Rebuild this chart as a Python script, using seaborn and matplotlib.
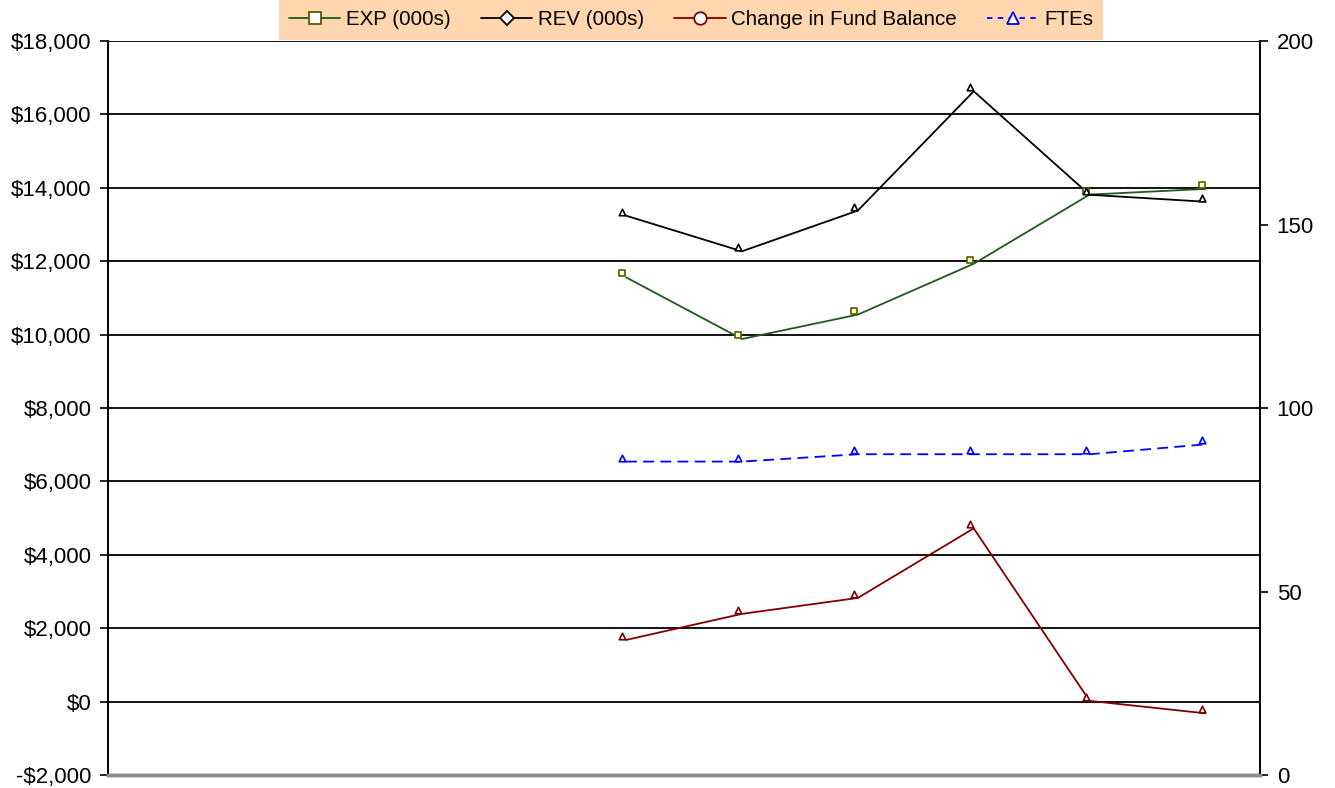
import matplotlib
matplotlib.use("Agg")
import matplotlib.pyplot as plt
import matplotlib.transforms as mtransforms
from matplotlib.lines import Line2D
import numpy as np
import pandas as pd
import seaborn as sns

# Ten reporting periods; only the last six carry values
periods = list(range(1, 11))
exp_000s = [None, None, None, None, 11560, 9880, 10545, 11930, 13815, 13970]
rev_000s = [None, None, None, None, 13240, 12270, 13380, 16630, 13810, 13620]
fund_balance_change = [None, None, None, None, 1680, 2390, 2825, 4720, 20, -320]
ftes = [None, None, None, None, 85.4, 85.4, 87.4, 87.4, 87.4, 90.1]

left_ticks = list(range(-2000, 18001, 2000))
right_ticks = [0, 50, 100, 150, 200]

df = pd.DataFrame({
    "period": periods,
    "EXP (000s)": exp_000s,
    "REV (000s)": rev_000s,
    "Change in Fund Balance": fund_balance_change,
    "FTEs": ftes,
}).astype(float)

sns.set_theme(style="white")
plt.rcParams["font.family"] = ["Liberation Sans", "DejaVu Sans"]
plt.rcParams["text.color"] = "black"

fig = plt.figure(figsize=(13.35, 7.88), dpi=100)
ax = fig.add_axes([108 / 1335, 1 - 775 / 788, (1260 - 108) / 1335, (775 - 41) / 788])
ax2 = ax.twinx()

c_exp = "#1e5a1e"
c_rev = "#000000"
c_fund = "#800000"
c_fte = "#0000ff"

# small marker glyphs sit just up-left of each vertex
mark_off = mtransforms.offset_copy(ax.transData, fig=fig, x=-4, y=4, units="dots")
mark_off2 = mtransforms.offset_copy(ax2.transData, fig=fig, x=-4, y=4, units="dots")

series = [
    ("EXP (000s)", c_exp, ax, mark_off, "s", "#ffffcc", "#5a5a00"),
    ("REV (000s)", c_rev, ax, mark_off, "^", "white", "#000000"),
    ("Change in Fund Balance", c_fund, ax, mark_off, "^", "white", c_fund),
]
for name, col, a, tr, mk, fc, ec in series:
    sub = df[["period", name]].dropna()
    sns.lineplot(data=sub, x="period", y=name, ax=a, color=col, lw=1.3)
    sns.scatterplot(data=sub, x="period", y=name, ax=a, marker=mk, s=22,
                    facecolor=fc, edgecolor=ec, linewidth=1.2, transform=tr, zorder=5)

sub = df[["period", "FTEs"]].dropna()
sns.lineplot(data=sub, x="period", y="FTEs", ax=ax2, color=c_fte, lw=1.3,
             dashes=False, linestyle=(0, (6, 3.5)))
sns.scatterplot(data=sub, x="period", y="FTEs", ax=ax2, marker="^", s=22,
                facecolor="white", edgecolor=c_fte, linewidth=1.2,
                transform=mark_off2, zorder=5)

# axes limits and ticks
ax.set_xlim(0.53, 10.47)
ax.set_ylim(-2000, 18000)
ax.set_yticks(left_ticks)
ax.set_yticklabels([f"-${abs(v):,}" if v < 0 else f"${v:,}" for v in left_ticks])
ax.set_xticks([])
ax2.set_ylim(0, 200)
ax2.set_yticks(right_ticks)
ax2.set_yticklabels([str(v) for v in right_ticks])
ax2.set_xticks([])
for a in (ax, ax2):
    a.set_xlabel("")
    a.set_ylabel("")

ax.yaxis.grid(True, color="black", lw=1.3)
ax.set_axisbelow(True)
ax.tick_params(axis="y", which="both", left=True, length=6, width=1.2,
               color="black", labelsize=16, pad=6, colors="black")
ax2.tick_params(axis="y", which="both", right=True, length=6, width=1.2,
                color="black", labelsize=16, pad=6, colors="black")

for a in (ax, ax2):
    for side in ("left", "right"):
        a.spines[side].set_color("black")
        a.spines[side].set_linewidth(1.2)
    a.spines["top"].set_visible(False)
    a.spines["bottom"].set_color("#8c8c8c")
    a.spines["bottom"].set_linewidth(2.5)

# legend across the top
handles = [
    Line2D([], [], color=c_exp, lw=1.3, marker="s", ms=9, mfc="white", mec="#5a5a00", mew=1.3),
    Line2D([], [], color=c_rev, lw=1.3, marker="D", ms=7, mfc="white", mec="black", mew=1.3),
    Line2D([], [], color=c_fund, lw=1.3, marker="o", ms=9, mfc="white", mec=c_fund, mew=1.3),
    Line2D([], [], color=c_fte, lw=1.3, ls=(0, (3, 3)), marker="^", ms=9, mfc="white", mec=c_fte, mew=1.3),
]
labels = ["EXP (000s)", "REV (000s)", "Change in Fund Balance", "FTEs"]
leg = fig.legend(handles, labels, loc="upper center", bbox_to_anchor=(691 / 1335, 1.0),
                 ncol=4, frameon=True, fancybox=False, facecolor="#ffcc99",
                 edgecolor="#ffcc99", fontsize=14.8, handlelength=2.5,
                 handletextpad=0.25, columnspacing=1.5, borderpad=0.5,
                 borderaxespad=0.0)
leg.get_frame().set_linewidth(0)
for t in leg.get_texts():
    t.set_color("black")

fig.savefig("out.png", dpi=100)
